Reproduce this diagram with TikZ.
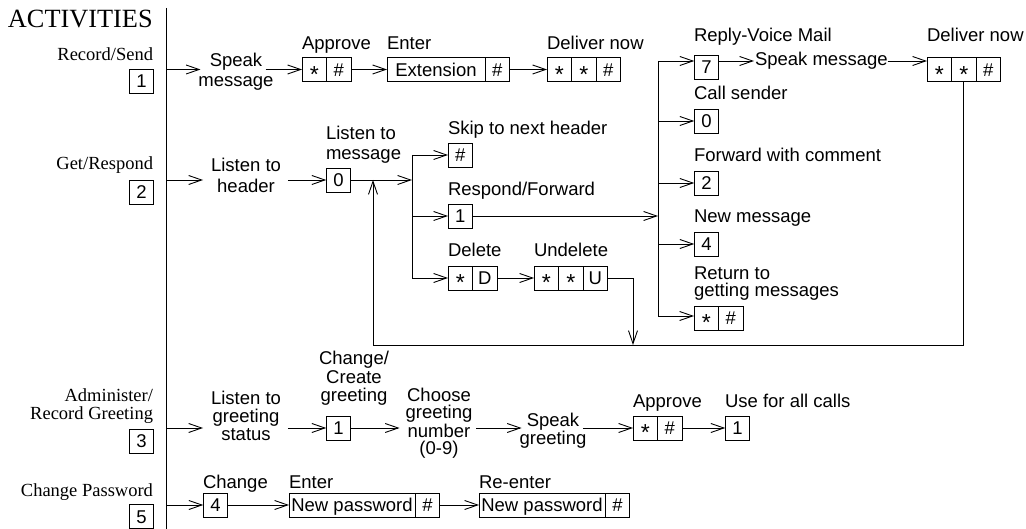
\documentclass[tikz,border=0pt]{standalone}
\usepackage{fontspec}
\setmainfont{Liberation Serif}
\setsansfont{Liberation Sans}
\usetikzlibrary{arrows.meta}
\newcommand{\astk}{\raisebox{-6.3pt}{\scalebox{1.25}{*}}}
\begin{document}
\begin{tikzpicture}[x=1pt,y=-1pt,
  every node/.style={inner sep=0pt,outer sep=0pt},
  sf/.style={font=\fontsize{18.5}{19}\sffamily},
  lbl/.style={sf,anchor=base west},
  ml/.style={sf,align=center,anchor=base},
  act/.style={font=\fontsize{18.5}{18}\rmfamily,anchor=base east},
  cell/.style={sf,draw,line width=0.9pt,minimum width=24.5pt,minimum height=24pt,text height=13.3pt,text depth=0pt},
  ln/.style={line width=0.9pt},
  arr/.style={line width=0.9pt,-{Straight Barb[length=13pt,width=9pt,line width=0.9pt]}}]
\useasboundingbox (0,0) rectangle (1026,529);

% ---- left column ----
\node[font=\fontsize{26.3}{28}\rmfamily,anchor=base west] (acts) at (8,28) {ACTIVITIES};
\node[act] (lrs) at (153,61) {Record/Send};
\node[cell] (k1) at (141.5,81) {1};
\node[act] (lgr) at (153,170) {Get/Respond};
\node[cell] (k2) at (141.5,192) {2};
\node[act,align=right] (lad) at (153,420) {Administer/\\Record Greeting};
\node[cell] (k3) at (141.5,441) {3};
\node[act] (lcp) at (153,496) {Change Password};
\node[cell] (k5) at (141.5,516.5) {5};
\coordinate (vtop) at (166,8);
\coordinate (vbot) at (166,529);
\draw[ln] (vtop) -- (vbot);

% ---- row 1: Record/Send ----
\coordinate (s1) at (166,69.5);
\node[ml,font=\fontsize{18.5}{20}\sffamily] (spk) at (236,87) {Speak\\message};
\draw[arr] (s1) -- ([xshift=2pt]spk.west |- s1);
\node[lbl] (lap1) at (302,50) {Approve};
\node[cell] (a1s) at (314.25,69.5) {\astk};
\node[cell] (a1h) at (338.75,69.5) {\#};
\draw[arr] ([xshift=-8pt]spk.east |- s1) -- (a1s.west);
\node[lbl] (lent) at (387,50) {Enter};
\node[cell,minimum width=98pt] (ext) at (436,69.5) {Extension};
\node[cell] (exth) at (497.25,69.5) {\#};
\draw[arr] (a1h.east) -- (ext.west);
\node[lbl] (ldn1) at (547,50) {Deliver now};
\node[cell] (d1a) at (559.25,69.5) {\astk};
\node[cell] (d1b) at (583.75,69.5) {\astk};
\node[cell] (d1c) at (608.25,69.5) {\#};
\draw[arr] (exth.east) -- (d1a.west);

% ---- right branch ----
\coordinate (rb1) at (658,61);
\coordinate (rb2) at (658,316);
\draw[ln] (rb1) -- (rb2);
\node[lbl] (lrv) at (694,42) {Reply-Voice Mail};
\node[cell] (r7) at (706.5,67) {7};
\draw[arr] (rb1) -- (r7.west |- rb1);
\node[lbl] (rspk) at (755,66) {Speak message};
\draw[arr] (r7.east |- rb1) -- ([xshift=-1pt]rspk.west |- rb1);
\node[lbl] (ldn2) at (927,42) {Deliver now};
\node[cell] (d2a) at (939.25,69.5) {\astk};
\node[cell] (d2b) at (963.75,69.5) {\astk};
\node[cell] (d2c) at (988.25,69.5) {\#};
\draw[arr] (rspk.east |- rb1) -- (d2a.west |- rb1);
\node[lbl] (lcs) at (694,100) {Call sender};
\node[cell] (r0) at (706.5,121) {0};
\draw[arr] (rb1 |- r0) -- (r0.west);
\node[lbl] (lfc) at (694,162) {Forward with comment};
\node[cell] (r2) at (706.5,183) {2};
\draw[arr] (rb1 |- r2) -- (r2.west);
\node[lbl] (lnm) at (694,223) {New message};
\node[cell] (r4) at (706.5,244) {4};
\draw[arr] (rb1 |- r4) -- (r4.west);
\node[lbl,align=left,font=\fontsize{18.5}{17}\sffamily] (lrt) at (694,297) {Return to\\getting messages};
\node[cell] (rrs) at (706.25,318) {\astk};
\node[cell] (rrh) at (730.75,318) {\#};
\draw[arr] (rb2) -- (rrs.west |- rb2);

% ---- row 2: Get/Respond ----
\coordinate (s2) at (166,180);
\node[ml,font=\fontsize{18.5}{21}\sffamily] (lth) at (246,193) {Listen to\\header};
\draw[arr] (s2) -- ([xshift=-8pt]lth.west |- s2);
\node[lbl,align=left,font=\fontsize{18.5}{20}\sffamily] (ltm) at (326,160) {Listen to\\message};
\node[cell] (c0) at (338.5,180) {0};
\draw[arr] ([xshift=7pt]lth.east |- s2) -- (c0.west);
\coordinate (b2t) at (412,155);
\coordinate (b2b) at (412,278);
\draw[ln] (b2t) -- (b2b);
\draw[arr] (c0.east) -- (b2t |- c0.east);
\node[lbl] (lsk) at (448,135) {Skip to next header};
\node[cell] (hsk) at (460.25,155) {\#};
\draw[arr] (b2t) -- (hsk.west);
\node[lbl] (lrf) at (448,196) {Respond/Forward};
\node[cell] (c1r) at (460.25,216) {1};
\draw[arr] (b2t |- c1r) -- (c1r.west);
\draw[arr] (c1r.east) -- (rb1 |- c1r);
\node[lbl] (ldl) at (448,257) {Delete};
\node[cell] (dls) at (460.25,278) {\astk};
\node[cell] (dld) at (484.75,278) {D};
\draw[arr] (b2b) -- (dls.west);
\node[lbl] (lud) at (534,257) {Undelete};
\node[cell] (uda) at (546.25,278) {\astk};
\node[cell] (udb) at (570.75,278) {\astk};
\node[cell] (udu) at (595.25,278) {U};
\draw[arr] (dld.east) -- (uda.west);
\coordinate (udn) at (633,345);
\coordinate (lpb) at (373,345);
\draw[arr] (udu.east) -| (udn);
\draw[arr] (d2b.south) |- (lpb) -- (lpb |- c0.east);

% ---- row 3: Administer ----
\coordinate (s3) at (166,428);
\node[ml,font=\fontsize{18.5}{18}\sffamily] (ltg) at (246,440) {Listen to\\greeting\\status};
\draw[arr] (s3) -- ([xshift=-8pt]ltg.west |- s3);
\node[ml,font=\fontsize{18.5}{18.5}\sffamily] (ccg) at (354,402) {Change/\\Create\\greeting};
\node[cell] (c1g) at (338.5,428) {1};
\draw[arr] ([xshift=7pt]ltg.east |- s3) -- (c1g.west);
\node[ml,font=\fontsize{18.5}{17}\sffamily] (cgn) at (439,454) {Choose\\greeting\\number\\(0-9)};
\draw[arr] (c1g.east) -- ([xshift=-6pt]cgn.west |- s3);
\node[ml,font=\fontsize{18.5}{18}\sffamily] (spg) at (553,444) {Speak\\greeting};
\draw[arr] ([xshift=4pt]cgn.east |- s3) -- ([xshift=2pt]spg.west |- s3);
\node[lbl] (lap3) at (633,407) {Approve};
\node[cell] (ap3s) at (645.25,428) {\astk};
\node[cell] (ap3h) at (669.75,428) {\#};
\draw[arr] ([xshift=-3.5pt]spg.east |- s3) -- (ap3s.west);
\node[lbl] (luf) at (725,407) {Use for all calls};
\node[cell] (u1) at (737.5,428) {1};
\draw[arr] (ap3h.east) -- (u1.west);

% ---- row 4: Change Password ----
\coordinate (s4) at (166,505);
\node[lbl] (lch) at (203,488) {Change};
\node[cell] (c4) at (215.5,505) {4};
\draw[arr] (s4) -- (c4.west);
\node[lbl] (len4) at (289,488) {Enter};
\node[cell,minimum width=126pt] (np1) at (352,505) {New password};
\node[cell] (np1h) at (427.5,505) {\#};
\draw[arr] (c4.east) -- (np1.west);
\node[lbl] (lre) at (479,488) {Re-enter};
\node[cell,minimum width=126pt] (np2) at (542,505) {New password};
\node[cell] (np2h) at (617.5,505) {\#};
\draw[arr] (np1h.east) -- (np2.west);
\end{tikzpicture}
\end{document}
